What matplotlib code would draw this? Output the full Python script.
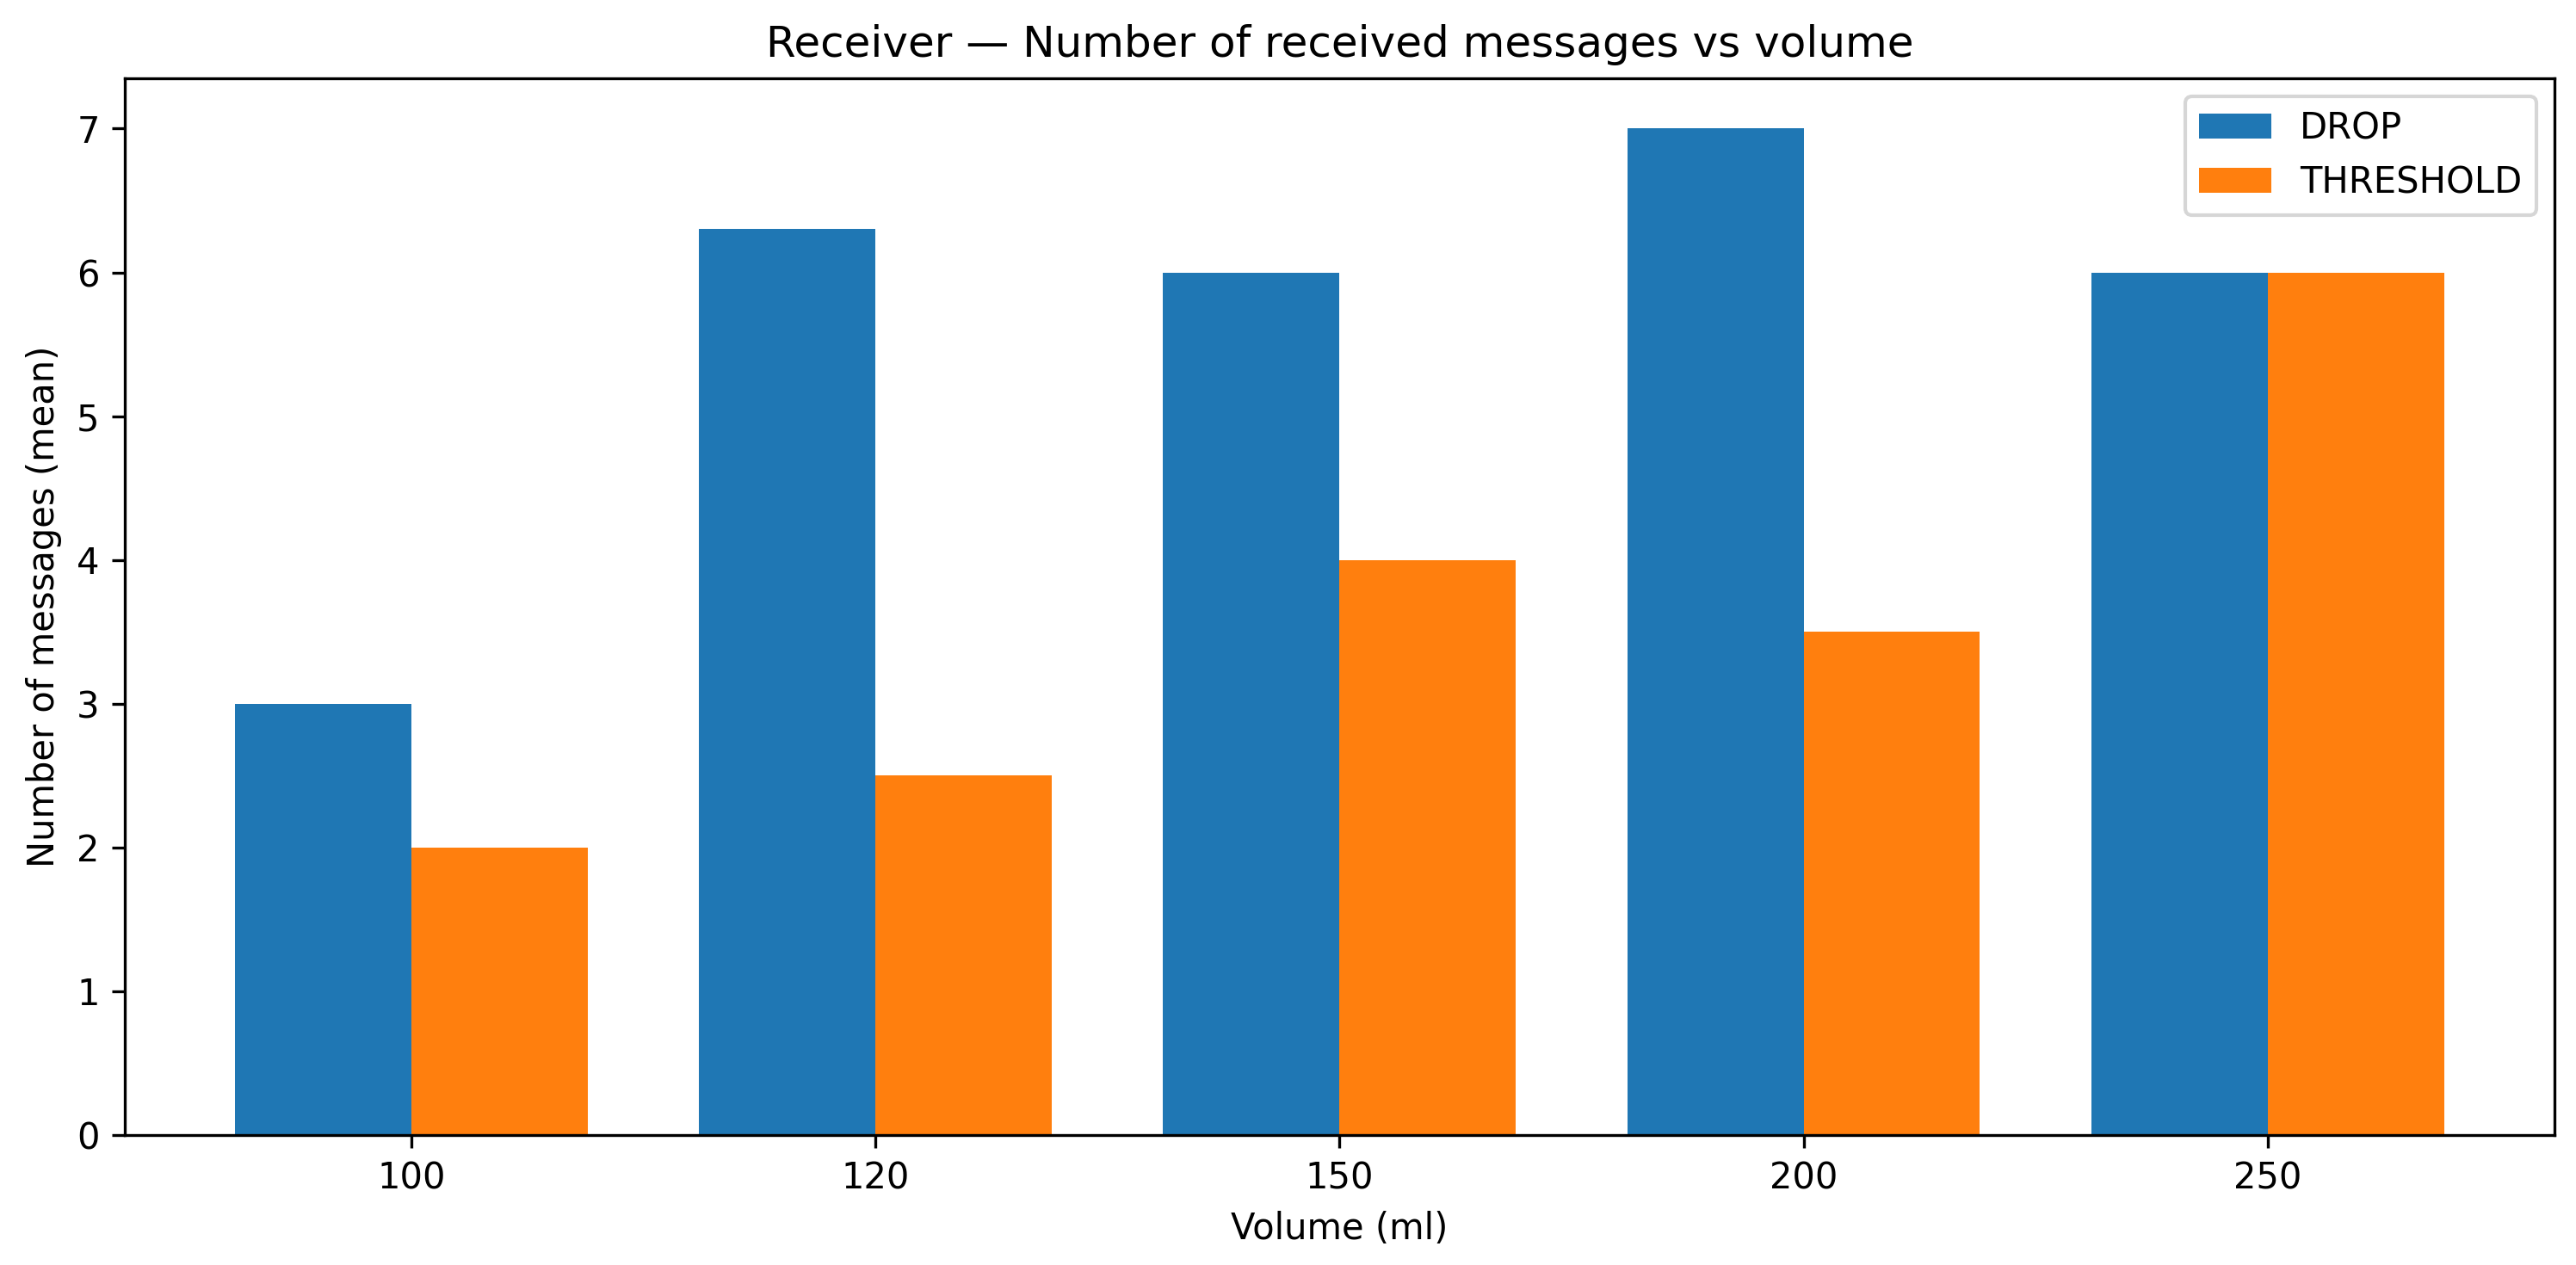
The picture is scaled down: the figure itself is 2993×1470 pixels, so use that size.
import numpy as np
import matplotlib
matplotlib.use('Agg')
import matplotlib.pyplot as plt

volumes = ['100', '120', '150', '200', '250']
drop = [3.0, 6.3, 6.0, 7.0, 6.0]
threshold = [2.0, 2.5, 4.0, 3.5, 6.0]

x = np.arange(len(volumes))
w = 0.38

fig = plt.figure(figsize=(2993/300, 1470/300), dpi=300)
ax = fig.add_axes([0.0484, 0.1027, 0.9432, 0.8354])
ax.bar(x - w/2, drop, w, label='DROP')
ax.bar(x + w/2, threshold, w, label='THRESHOLD')
ax.set_xticks(x)
ax.set_xticklabels(volumes)
ax.set_xlabel('Volume (ml)')
ax.set_ylabel('Number of messages (mean)')
ax.set_title('Receiver — Number of received messages vs volume')
ax.legend()
fig.savefig('out.png', dpi=300)
